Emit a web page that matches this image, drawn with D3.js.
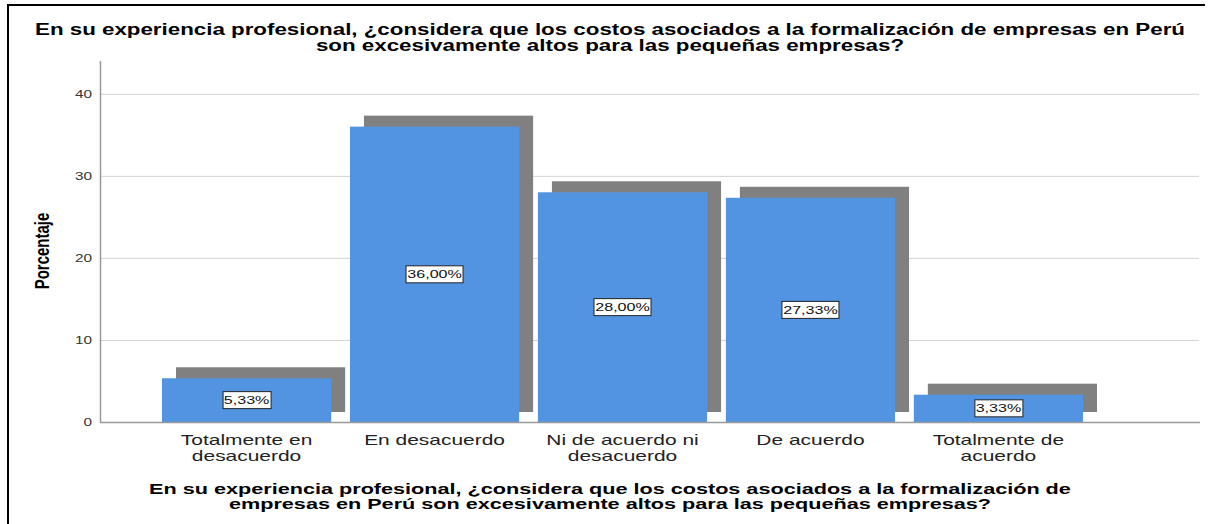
<!DOCTYPE html>
<html>
<head>
<meta charset="utf-8">
<script src="https://cdn.jsdelivr.net/npm/d3@7/dist/d3.min.js"></script>
<style>
    html, body { margin: 0; padding: 0; background: #fff; }
    svg text { font-family: "Liberation Sans", Arial, sans-serif; }
</style>
</head>
<body>
<div id="chart"></div>
<script>
/* jshint esversion: 6 */

// chart data
var categories = [`Totalmente en desacuerdo`, `En desacuerdo`, `Ni de acuerdo ni desacuerdo`,
                  `De acuerdo`, `Totalmente de acuerdo`];
var catLines   = [[`Totalmente en`, `desacuerdo`], [`En desacuerdo`], [`Ni de acuerdo ni`, `desacuerdo`],
                  [`De acuerdo`], [`Totalmente de`, `acuerdo`]];
var percents   = [5.33, 36.00, 28.00, 27.33, 3.33];
var yTicks     = [0, 10, 20, 30, 40];
var titleLines = [`En su experiencia profesional, ¿considera que los costos asociados a la formalización de empresas en Perú`,
                  `son excesivamente altos para las pequeñas empresas?`];
var xTitleLines = [`En su experiencia profesional, ¿considera que los costos asociados a la formalización de`,
                   `empresas en Perú son excesivamente altos para las pequeñas empresas?`];
var yTitle     = `Porcentaje`;

(function()
{
    "use strict";

    var W = 1208, H = 524;
    var cx = 610;

    var svg = d3.select("#chart")
                .append("svg")
                .attr("width", W)
                .attr("height", H);

    // frame
    // #########################################################################
    svg.append("line")
       .attr("x1", 8).attr("x2", 1205).attr("y1", 5).attr("y2", 5)
       .attr("stroke", "#000").attr("stroke-width", 2);
    svg.append("line")
       .attr("x1", 8).attr("x2", 8).attr("y1", 4).attr("y2", H)
       .attr("stroke", "#000").attr("stroke-width", 2);
    // #########################################################################

    // title first: its width gives the horizontal stretch of every text
    var title = svg.append("g");
    title.selectAll("text")
         .data(titleLines)
         .enter().append("text")
         .attr("x", cx)
         .attr("y", (d, i) => 35 + i * 16)
         .attr("text-anchor", "middle")
         .attr("font-size", 16)
         .attr("font-weight", "bold")
         .attr("fill", "#000")
         .text((d) => d);

    var SX = 1150 / title.select("text").node().getComputedTextLength();

    function stretch(sel)
    {
        sel.each(function() {
            var w = this.getComputedTextLength();
            d3.select(this)
              .attr("textLength", w * SX)
              .attr("lengthAdjust", "spacingAndGlyphs");
        });
    }

    stretch(title.selectAll("text"));

    // scales
    // #########################################################################
    var xScale = d3.scaleBand()
                 .domain(categories)
                 .range([162, 1083])
                 .paddingInner(0.1)
                 .paddingOuter(0);

    var yScale = d3.scaleLinear()
                 .domain([0, 44])
                 .range([422, 61]);
    // #########################################################################

    // grid
    svg.append("g")
       .selectAll("line")
       .data(yTicks.filter((t) => t > 0))
       .enter().append("line")
       .attr("x1", 100).attr("x2", 1199)
       .attr("y1", (d) => yScale(d) + 0.5)
       .attr("y2", (d) => yScale(d) + 0.5)
       .attr("stroke", "#d3d3d3");

    // tick labels
    var tl = svg.append("g")
                .selectAll("text")
                .data(yTicks)
                .enter().append("text")
                .attr("x", 92)
                .attr("y", (d) => yScale(d))
                .attr("dy", "0.36em")
                .attr("text-anchor", "end")
                .attr("font-size", 11)
                .attr("fill", "#333")
                .text((d) => d);
    stretch(tl);

    // shadows, then bars
    // #########################################################################
    var dx = 14, dy = 11;
    var data = categories.map((c, i) => ({cat: c, v: percents[i], lines: catLines[i]}));

    svg.append("g")
       .selectAll("rect")
       .data(data)
       .enter().append("rect")
       .attr("x", (d) => xScale(d.cat) + dx)
       .attr("y", (d) => yScale(d.v) - dy)
       .attr("width", xScale.bandwidth())
       .attr("height", (d) => yScale(0) - 10 - (yScale(d.v) - dy))
       .attr("fill", "#808080");

    svg.append("g")
       .selectAll("rect")
       .data(data)
       .enter().append("rect")
       .attr("x", (d) => xScale(d.cat))
       .attr("y", (d) => yScale(d.v))
       .attr("width", xScale.bandwidth())
       .attr("height", (d) => yScale(0) - yScale(d.v))
       .attr("fill", "#5294e2");
    // #########################################################################

    // axes lines
    svg.append("line")
       .attr("x1", 100.5).attr("x2", 100.5).attr("y1", 61).attr("y2", 423)
       .attr("stroke", "#999").attr("stroke-width", 1.5);
    svg.append("line")
       .attr("x1", 100).attr("x2", 1200).attr("y1", 422.5).attr("y2", 422.5)
       .attr("stroke", "#999").attr("stroke-width", 1.5);

    // value labels
    // #########################################################################
    var lab = svg.append("g")
                 .selectAll("g")
                 .data(data)
                 .enter().append("g")
                 .attr("transform", (d) => `translate(${xScale(d.cat) + xScale.bandwidth() / 2},${(yScale(d.v) + yScale(0)) / 2})`);

    var labRect = lab.append("rect")
                     .attr("fill", "#fff")
                     .attr("stroke", "#222")
                     .attr("stroke-width", 1);

    var labText = lab.append("text")
                     .attr("text-anchor", "middle")
                     .attr("dy", "0.36em")
                     .attr("font-size", 11.5)
                     .attr("fill", "#111")
                     .text((d) => d.v.toFixed(2).replace(".", ",") + "%");

    // box from the plain width, then stretch the text
    labRect.each(function(d, i) {
        var w = labText.nodes()[i].getComputedTextLength() * SX + 3;
        d3.select(this)
          .attr("x", Math.round(-w / 2) + 0.5)
          .attr("y", -8.5)
          .attr("width", Math.round(w))
          .attr("height", 17);
    });
    stretch(labText);
    // #########################################################################

    // category labels
    var cl = svg.append("g")
                .selectAll("text")
                .data(data)
                .enter().append("text")
                .attr("text-anchor", "middle")
                .attr("font-size", 15)
                .attr("fill", "#222");
    cl.selectAll("tspan")
      .data((d) => d.lines.map((t) => ({t: t, x: xScale(d.cat) + xScale.bandwidth() / 2})))
      .enter().append("tspan")
      .attr("x", (d) => d.x)
      .attr("y", (d, i) => 445 + i * 16)
      .text((d) => d.t);
    stretch(cl.selectAll("tspan"));

    // x title
    var xt = svg.append("g")
                .selectAll("text")
                .data(xTitleLines)
                .enter().append("text")
                .attr("x", cx)
                .attr("y", (d, i) => 494 + i * 15)
                .attr("text-anchor", "middle")
                .attr("font-size", 15.5)
                .attr("font-weight", "bold")
                .attr("fill", "#000")
                .text((d) => d);
    stretch(xt);

    // y title
    svg.append("text")
       .attr("transform", `translate(49,251) scale(${SX},1) rotate(-90)`)
       .attr("text-anchor", "middle")
       .attr("font-size", 15)
       .attr("font-weight", "bold")
       .attr("fill", "#000")
       .text(yTitle);
}
)();
// #############################################################################
</script>
</body>
</html>
